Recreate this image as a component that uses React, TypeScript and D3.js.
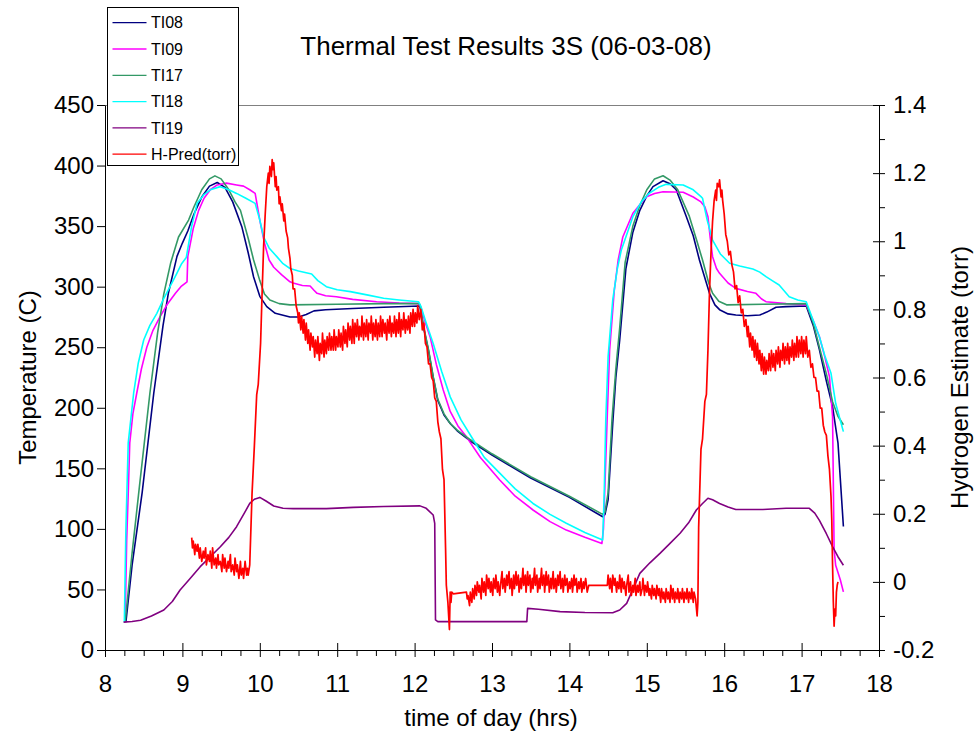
import React, { useEffect, useRef } from 'react';
import * as d3 from 'd3';

const W = 979;
const H = 733;
const PL = 105, PR = 879, PT = 105, PB = 650;

const xTicks = [8, 9, 10, 11, 12, 13, 14, 15, 16, 17, 18];
const xMinor = [8.25, 8.5, 8.75, 9.25, 9.5, 9.75, 10.25, 10.5, 10.75, 11.25, 11.5, 11.75, 12.25, 12.5, 12.75, 13.25, 13.5, 13.75, 14.25, 14.5, 14.75, 15.25, 15.5, 15.75, 16.25, 16.5, 16.75, 17.25, 17.5, 17.75];
const yLeftTicks = [0, 50, 100, 150, 200, 250, 300, 350, 400, 450];
const yRightTicks = [-0.2, 0, 0.2, 0.4, 0.6, 0.8, 1.0, 1.2, 1.4];
const yRightLabels = ['-0.2', '0', '0.2', '0.4', '0.6', '0.8', '1', '1.2', '1.4'];
const yRightMinor = [-0.1, 0.1, 0.3, 0.5, 0.7, 0.9, 1.1, 1.3];

const seriesNames = ['TI08', 'TI09', 'TI17', 'TI18', 'TI19', 'H-Pred(torr)'];
const seriesColors = ['#000080', '#FF00FF', '#339966', '#00FFFF', '#800080', '#FF0000'];

const TI08: [number, number][] = [
  [8.27, 23], [8.35, 70], [8.48, 130], [8.63, 212], [8.75, 268], [8.82, 295], [8.93, 325], [9.0, 336], [9.07, 346],
  [9.15, 360], [9.25, 374], [9.35, 383], [9.45, 386], [9.55, 382], [9.65, 370], [9.77, 349], [9.85, 328], [9.92, 308],
  [10.0, 292], [10.09, 283.5], [10.2, 278], [10.39, 275], [10.5, 275], [10.6, 277], [10.7, 280], [10.85, 281],
  [11.2, 282], [11.6, 283], [12.06, 284],
  [12.07, 283], [12.12, 265], [12.18, 247], [12.24, 225], [12.3, 206], [12.38, 194], [12.46, 187], [12.55, 181],
  [12.71, 173], [13.0, 161], [13.5, 142], [14.0, 126], [14.43, 110],
  [14.46, 112], [14.5, 124], [14.56, 187], [14.6, 225], [14.65, 256], [14.73, 315], [14.82, 345], [14.91, 363],
  [15.0, 375], [15.08, 382.6], [15.21, 387.5], [15.3, 385], [15.38, 380], [15.51, 358], [15.6, 342], [15.68, 322],
  [15.77, 303], [15.81, 294.5], [15.88, 285], [15.94, 281], [16.05, 277.5], [16.15, 276.6], [16.3, 276],
  [16.46, 276.6], [16.55, 279], [16.67, 283], [16.8, 283.5], [17.06, 284], [17.15, 268], [17.23, 248],
  [17.32, 222], [17.4, 201], [17.47, 171], [17.54, 102],
];

const TI09: [number, number][] = [
  [8.26, 23], [8.28, 90], [8.3, 129], [8.32, 171], [8.36, 195], [8.41, 212], [8.47, 232], [8.54, 250], [8.62, 264],
  [8.71, 275], [8.8, 285], [8.91, 294.5], [8.98, 300], [9.06, 304], [9.07, 325], [9.14, 348], [9.21, 363],
  [9.28, 373], [9.36, 380], [9.45, 384], [9.57, 385.5], [9.7, 384], [9.79, 383], [9.87, 380], [9.94, 377],
  [10.0, 355], [10.06, 336], [10.12, 322], [10.18, 316], [10.28, 310], [10.39, 304], [10.43, 303], [10.55, 301],
  [10.65, 300.5], [10.7, 297], [10.74, 294.5], [10.85, 292.5], [10.99, 291.7], [11.2, 289.5], [11.51, 287.6],
  [11.8, 286.5], [12.05, 286],
  [12.08, 283], [12.14, 270], [12.2, 258.7], [12.28, 236], [12.37, 214.7], [12.46, 197], [12.56, 185], [12.67, 176],
  [12.85, 159], [13.1, 140.4], [13.3, 127], [13.53, 115.6], [13.75, 106], [13.96, 99], [14.2, 93], [14.42, 88],
  [14.44, 100], [14.46, 138], [14.49, 195], [14.52, 247.7], [14.58, 297], [14.63, 322], [14.69, 341],
  [14.82, 360.6], [14.99, 374], [15.1, 377], [15.21, 378.4], [15.47, 378], [15.6, 374], [15.7, 370], [15.75, 366],
  [15.79, 357.8], [15.82, 340], [15.85, 324.8], [15.9, 315], [15.94, 311], [16.05, 303], [16.15, 298.6],
  [16.3, 296], [16.41, 294.5], [16.48, 290], [16.54, 287.6], [16.8, 286], [17.06, 285], [17.15, 272],
  [17.23, 258.7], [17.3, 242], [17.36, 225.7], [17.4, 192.6], [17.42, 82.6], [17.44, 70], [17.5, 58], [17.54, 48],
];

const TI17: [number, number][] = [
  [8.26, 23], [8.35, 80], [8.45, 138], [8.58, 212], [8.68, 262], [8.76, 294], [8.85, 320], [8.95, 341], [9.08, 355],
  [9.15, 366], [9.25, 380], [9.35, 389], [9.42, 391.5], [9.5, 389], [9.6, 380], [9.68, 370], [9.75, 363],
  [9.85, 340], [9.92, 322], [10.0, 305], [10.06, 294], [10.13, 289], [10.25, 286], [10.39, 285], [11.0, 285.5],
  [11.6, 286], [12.06, 286],
  [12.07, 285], [12.12, 266], [12.18, 248], [12.24, 226], [12.3, 207], [12.38, 195], [12.46, 187], [12.55, 181.5],
  [12.71, 174], [13.0, 162], [13.5, 143], [14.0, 127], [14.43, 112],
  [14.46, 114], [14.5, 130], [14.55, 190], [14.6, 232], [14.65, 266], [14.72, 320], [14.82, 350], [14.91, 367],
  [15.0, 380], [15.1, 389], [15.21, 391.6], [15.3, 388], [15.4, 380], [15.55, 358], [15.65, 337], [15.72, 322],
  [15.8, 303], [15.85, 294.5], [15.93, 288], [16.03, 285], [16.5, 285.5], [17.06, 286], [17.15, 270],
  [17.23, 250], [17.32, 228], [17.4, 205], [17.47, 193], [17.54, 186],
];

const TI18: [number, number][] = [
  [8.25, 23], [8.27, 100], [8.3, 171], [8.37, 212], [8.43, 237], [8.5, 256], [8.58, 268], [8.67, 278], [8.75, 289],
  [8.84, 300], [8.92, 310], [8.99, 319], [9.05, 324], [9.12, 350], [9.19, 368.8], [9.28, 376], [9.36, 380],
  [9.49, 382.6], [9.6, 380], [9.7, 377], [9.82, 373], [9.94, 368.8], [10.0, 355], [10.05, 341], [10.12, 332],
  [10.22, 324.8], [10.3, 319], [10.39, 315], [10.5, 313], [10.67, 310.5], [10.75, 305], [10.86, 300], [11.0, 297.5],
  [11.17, 295.9], [11.4, 293], [11.6, 290.4], [11.8, 289], [12.05, 287.6],
  [12.08, 284], [12.15, 270], [12.24, 253], [12.35, 230], [12.46, 209], [12.6, 190], [12.76, 173.4], [12.9, 159],
  [13.1, 146], [13.3, 133], [13.53, 121], [13.75, 112], [13.96, 104.6], [14.2, 97], [14.43, 90.8],
  [14.45, 130], [14.47, 190], [14.5, 242], [14.56, 289], [14.62, 315], [14.67, 330], [14.82, 357.8], [14.93, 370],
  [15.03, 377], [15.15, 382], [15.25, 384.5], [15.47, 384], [15.6, 380], [15.7, 374.3], [15.72, 373], [15.78, 355],
  [15.85, 338.5], [15.95, 327], [16.07, 319.3], [16.2, 317], [16.37, 314.6], [16.46, 312], [16.54, 308.3],
  [16.62, 305], [16.71, 301.4], [16.84, 291.7], [16.95, 289], [17.06, 287.6], [17.15, 272], [17.23, 258.7],
  [17.3, 243], [17.38, 228.5], [17.44, 203.7], [17.49, 192], [17.54, 180.3],
];

const TI19: [number, number][] = [
  [8.24, 23], [8.35, 23.5], [8.46, 24.5], [8.6, 28], [8.76, 33], [8.87, 40], [8.97, 49.5], [9.1, 59], [9.23, 68.8],
  [9.36, 77], [9.49, 85.3], [9.6, 93], [9.7, 101.8], [9.8, 113], [9.87, 121], [9.93, 124.5], [10.0, 126],
  [10.08, 123], [10.18, 118.9], [10.3, 117], [10.43, 116.7], [10.86, 116.7], [11.21, 117.8], [11.6, 118.5],
  [12.07, 119], [12.15, 117], [12.24, 111.5], [12.26, 104.6], [12.27, 24.8], [12.3, 23.4], [13.45, 23.4],
  [13.46, 34.4], [13.6, 33.6], [13.88, 31.7], [14.2, 31], [14.56, 30.8], [14.65, 33], [14.74, 38.5], [14.82, 50],
  [14.91, 63.3], [15.04, 72], [15.17, 79.8], [15.3, 88], [15.43, 96.4], [15.54, 105], [15.64, 115.6], [15.72, 121],
  [15.79, 125.3], [15.85, 124], [15.94, 121], [16.05, 118], [16.15, 116], [16.5, 116], [16.8, 117], [17.1, 117],
  [17.17, 113], [17.23, 107], [17.32, 96], [17.4, 85.3], [17.47, 77], [17.54, 70],
];

const HPRED: [number, number][] = [
  [9.12, 0.13], [9.13, 0.10], [9.14, 0.12], [9.16, 0.08], [9.17, 0.11], [9.19, 0.09], [9.2, 0.11], [9.22, 0.07],
  [9.23, 0.10], [9.25, 0.06], [9.27, 0.09], [9.28, 0.07], [9.3, 0.10], [9.31, 0.05], [9.33, 0.08], [9.35, 0.06],
  [9.36, 0.09], [9.38, 0.04], [9.39, 0.10], [9.41, 0.05], [9.43, 0.07], [9.44, 0.04], [9.46, 0.08], [9.47, 0.05],
  [9.49, 0.06], [9.51, 0.03], [9.52, 0.08], [9.54, 0.04], [9.55, 0.07], [9.57, 0.03], [9.59, 0.06], [9.6, 0.04],
  [9.62, 0.08], [9.63, 0.03], [9.65, 0.05], [9.67, 0.02], [9.68, 0.07], [9.7, 0.03], [9.71, 0.05], [9.73, 0.01],
  [9.75, 0.06], [9.76, 0.02], [9.78, 0.04], [9.79, 0.01], [9.81, 0.06], [9.83, 0.02], [9.84, 0.04], [9.85, 0.02],
  [9.87, 0.05], [9.9, 0.26], [9.93, 0.40], [9.96, 0.55], [9.98, 0.58], [10.01, 0.70], [10.03, 0.85], [10.05, 0.99],
  [10.07, 1.08], [10.09, 1.16], [10.11, 1.20], [10.12, 1.17], [10.13, 1.22], [10.15, 1.19], [10.16, 1.24],
  [10.17, 1.21], [10.18, 1.23], [10.2, 1.16], [10.21, 1.19], [10.22, 1.15], [10.24, 1.16], [10.25, 1.11],
  [10.26, 1.13], [10.28, 1.09], [10.29, 1.11], [10.31, 1.06], [10.32, 1.08], [10.34, 1.03], [10.36, 1.01],
  [10.37, 0.98], [10.39, 0.95], [10.4, 0.92], [10.42, 0.90], [10.43, 0.86], [10.45, 0.86], [10.47, 0.81],
  [10.49, 0.79], [10.5, 0.76], [10.51, 0.79], [10.53, 0.74], [10.54, 0.78], [10.56, 0.73], [10.57, 0.77],
  [10.59, 0.71], [10.6, 0.76], [10.62, 0.70], [10.63, 0.74], [10.65, 0.68], [10.66, 0.73], [10.68, 0.69],
  [10.69, 0.72], [10.71, 0.66], [10.72, 0.71], [10.74, 0.67], [10.75, 0.72], [10.77, 0.65], [10.78, 0.70],
  [10.8, 0.67], [10.81, 0.73], [10.83, 0.66], [10.84, 0.71], [10.86, 0.67], [10.87, 0.72], [10.89, 0.68],
  [10.9, 0.73], [10.92, 0.68], [10.93, 0.72], [10.95, 0.68], [10.96, 0.74], [10.98, 0.68], [10.99, 0.72],
  [11.01, 0.69], [11.02, 0.74], [11.04, 0.69], [11.05, 0.73], [11.07, 0.68], [11.08, 0.75], [11.1, 0.70],
  [11.11, 0.74], [11.13, 0.69], [11.14, 0.76], [11.16, 0.71], [11.17, 0.75], [11.19, 0.70], [11.2, 0.77],
  [11.22, 0.70], [11.23, 0.76], [11.25, 0.72], [11.26, 0.77], [11.28, 0.71], [11.29, 0.75], [11.31, 0.72],
  [11.32, 0.78], [11.34, 0.71], [11.35, 0.76], [11.37, 0.72], [11.38, 0.77], [11.4, 0.71], [11.41, 0.76],
  [11.43, 0.73], [11.44, 0.78], [11.46, 0.71], [11.47, 0.76], [11.49, 0.72], [11.5, 0.77], [11.52, 0.71],
  [11.53, 0.76], [11.55, 0.72], [11.56, 0.78], [11.58, 0.72], [11.59, 0.77], [11.61, 0.73], [11.62, 0.76],
  [11.64, 0.71], [11.65, 0.77], [11.67, 0.73], [11.68, 0.78], [11.7, 0.72], [11.71, 0.76], [11.73, 0.73],
  [11.74, 0.78], [11.76, 0.72], [11.77, 0.77], [11.79, 0.73], [11.8, 0.79], [11.82, 0.72], [11.83, 0.77],
  [11.85, 0.74], [11.86, 0.79], [11.88, 0.73], [11.89, 0.77], [11.91, 0.74], [11.92, 0.78], [11.94, 0.73],
  [11.95, 0.79], [11.97, 0.75], [11.98, 0.80], [12.0, 0.75], [12.01, 0.79], [12.03, 0.76], [12.04, 0.81],
  [12.06, 0.77], [12.08, 0.80], [12.1, 0.74], [12.12, 0.76], [12.14, 0.70],
  [12.16, 0.69], [12.18, 0.64], [12.2, 0.64], [12.22, 0.60], [12.24, 0.59], [12.26, 0.54], [12.28, 0.53],
  [12.3, 0.47], [12.32, 0.44], [12.34, 0.42], [12.36, 0.33], [12.38, 0.30], [12.4, 0.10], [12.41, -0.01],
  [12.43, -0.06], [12.45, -0.14], [12.46, -0.03], [12.47, -0.06], [12.48, -0.03], [12.5, -0.035], [12.67, -0.03],
  [12.68, -0.05], [12.69, -0.04], [12.71, -0.07], [12.72, -0.03], [12.74, -0.06], [12.75, -0.02], [12.77, -0.05],
  [12.78, -0.01], [12.8, -0.04], [12.81, 0.00], [12.83, -0.03], [12.84, -0.01], [12.86, -0.05], [12.87, 0.01],
  [12.89, -0.03], [12.9, 0.00], [12.92, -0.04], [12.93, 0.02], [12.95, -0.02], [12.96, 0.01], [12.98, -0.03],
  [12.99, 0.00], [13.01, -0.04], [13.02, 0.01], [13.04, -0.02], [13.05, 0.02], [13.07, -0.03], [13.08, 0.00],
  [13.1, -0.04], [13.11, -0.01], [13.13, 0.03], [13.14, -0.02], [13.16, 0.01], [13.17, -0.03], [13.19, 0.02],
  [13.2, -0.01], [13.22, 0.03], [13.23, -0.02], [13.25, 0.01], [13.26, -0.04], [13.28, 0.02], [13.29, -0.02],
  [13.31, 0.03], [13.32, -0.01], [13.34, 0.02], [13.35, -0.03], [13.37, 0.01], [13.38, -0.02], [13.4, 0.04],
  [13.41, -0.01], [13.43, 0.02], [13.44, -0.03], [13.46, 0.03], [13.47, -0.01], [13.49, 0.02], [13.5, -0.03],
  [13.52, 0.01], [13.53, -0.02], [13.55, 0.04], [13.56, -0.01], [13.58, 0.02], [13.59, -0.03], [13.61, 0.01],
  [13.62, -0.02], [13.64, 0.04], [13.65, -0.01], [13.67, 0.02], [13.68, -0.03], [13.7, 0.03], [13.71, -0.01],
  [13.73, 0.02], [13.74, -0.03], [13.76, 0.01], [13.77, -0.02], [13.79, 0.03], [13.8, -0.02], [13.82, 0.01],
  [13.83, -0.03], [13.85, 0.02], [13.86, -0.01], [13.88, 0.03], [13.89, -0.02], [13.91, 0.01], [13.92, -0.03],
  [13.94, 0.02], [13.95, -0.01], [13.97, 0.01], [13.98, -0.03], [14.0, 0.00], [14.01, -0.02], [14.03, 0.01],
  [14.04, -0.03], [14.06, 0.02], [14.07, -0.01], [14.09, 0.01], [14.1, -0.03], [14.12, 0.00], [14.13, -0.02],
  [14.15, 0.01], [14.16, -0.03], [14.18, 0.00], [14.19, -0.02], [14.21, 0.01], [14.23, -0.03], [14.25, -0.01],
  [14.28, -0.01], [14.49, -0.01], [14.5, 0.02], [14.52, -0.02], [14.53, 0.01], [14.55, -0.03], [14.56, 0.02],
  [14.58, -0.01], [14.59, 0.01], [14.61, -0.03], [14.62, 0.00], [14.64, -0.02], [14.65, 0.02], [14.67, -0.03],
  [14.68, 0.01], [14.7, -0.02], [14.71, 0.00], [14.73, -0.04], [14.74, -0.01], [14.76, 0.02], [14.77, -0.03],
  [14.79, 0.00], [14.8, -0.04], [14.82, -0.01], [14.83, -0.03], [14.85, 0.01], [14.86, -0.04], [14.88, -0.01],
  [14.89, -0.03], [14.91, 0.00], [14.92, -0.04], [14.94, -0.02], [14.95, 0.01], [14.97, -0.04], [14.98, -0.01],
  [15.0, -0.03], [15.01, 0.00], [15.03, -0.04], [15.04, -0.02], [15.06, -0.05], [15.07, -0.01], [15.09, -0.04],
  [15.1, -0.02], [15.12, -0.05], [15.13, -0.01], [15.15, -0.04], [15.16, -0.02], [15.18, -0.06], [15.19, -0.02],
  [15.21, -0.05], [15.22, -0.03], [15.24, -0.06], [15.25, -0.02], [15.27, -0.05], [15.28, -0.03], [15.3, -0.06],
  [15.31, -0.01], [15.33, -0.05], [15.34, -0.02], [15.36, -0.06], [15.37, -0.03], [15.39, -0.05], [15.4, -0.02],
  [15.42, -0.06], [15.43, -0.03], [15.45, -0.05], [15.46, -0.02], [15.48, -0.06], [15.49, -0.03], [15.51, -0.05],
  [15.52, -0.02], [15.54, -0.06], [15.55, -0.03], [15.57, -0.05], [15.58, -0.02], [15.6, -0.06], [15.61, -0.03],
  [15.63, -0.05], [15.65, -0.10], [15.66, -0.06],
  [15.67, 0.16], [15.7, 0.39], [15.72, 0.42], [15.75, 0.53], [15.77, 0.55], [15.79, 0.68], [15.81, 0.85],
  [15.83, 0.97], [15.85, 1.06], [15.87, 1.12], [15.89, 1.15], [15.9, 1.12], [15.91, 1.17], [15.93, 1.16],
  [15.94, 1.18], [15.96, 1.13], [15.97, 1.15], [15.98, 1.12], [16.0, 1.08], [16.02, 1.02], [16.04, 1.00],
  [16.06, 0.96], [16.08, 0.97], [16.1, 0.93], [16.12, 0.91], [16.14, 0.86], [16.16, 0.87], [16.18, 0.82],
  [16.2, 0.84], [16.22, 0.79], [16.24, 0.80], [16.26, 0.75], [16.28, 0.77], [16.3, 0.72], [16.31, 0.75],
  [16.33, 0.69], [16.34, 0.73], [16.36, 0.68], [16.37, 0.72], [16.39, 0.66], [16.4, 0.71], [16.42, 0.65],
  [16.43, 0.70], [16.45, 0.64], [16.46, 0.68], [16.48, 0.62], [16.49, 0.67], [16.51, 0.61], [16.52, 0.66],
  [16.54, 0.61], [16.55, 0.65], [16.57, 0.62], [16.58, 0.67], [16.6, 0.62], [16.61, 0.68], [16.63, 0.63],
  [16.64, 0.67], [16.66, 0.62], [16.67, 0.68], [16.69, 0.64], [16.7, 0.69], [16.72, 0.63], [16.73, 0.68],
  [16.75, 0.65], [16.76, 0.70], [16.78, 0.64], [16.79, 0.69], [16.81, 0.65], [16.82, 0.70], [16.84, 0.64],
  [16.85, 0.69], [16.87, 0.66], [16.88, 0.71], [16.9, 0.65], [16.91, 0.70], [16.93, 0.66], [16.94, 0.72],
  [16.96, 0.66], [16.97, 0.71], [16.99, 0.67], [17.0, 0.72], [17.02, 0.66], [17.03, 0.71], [17.05, 0.67],
  [17.06, 0.72], [17.08, 0.66], [17.1, 0.68], [17.12, 0.63], [17.14, 0.64], [17.16, 0.60],
  [17.18, 0.60], [17.2, 0.56], [17.22, 0.56], [17.24, 0.51], [17.26, 0.51], [17.28, 0.46], [17.3, 0.44],
  [17.32, 0.43], [17.34, 0.37], [17.36, 0.33], [17.38, 0.25], [17.39, 0.18], [17.4, 0.05], [17.41, -0.06],
  [17.42, -0.13], [17.43, -0.08], [17.44, -0.10], [17.45, -0.03], [17.46, -0.01], [17.47, 0.00],
];

const tempSeries = [TI08, TI09, TI17, TI18, TI19];

const FONT = '"Liberation Sans", Arial, Helvetica, sans-serif';

export default function App() {
  const ref = useRef<SVGSVGElement | null>(null);

  useEffect(() => {
    const svg = d3.select(ref.current);
    svg.selectAll('*').remove();

    const x = d3.scaleLinear().domain([8, 18]).range([PL, PR]);
    const yL = d3.scaleLinear().domain([0, 450]).range([PB, PT]);
    const yR = d3.scaleLinear().domain([-0.2, 1.4]).range([PB, PT]);

    svg.append('rect').attr('x', 0).attr('y', 0).attr('width', W).attr('height', H).attr('fill', '#fff');

    // top border
    svg.append('line').attr('x1', PL).attr('x2', PR).attr('y1', PT + 0.5).attr('y2', PT + 0.5)
      .attr('stroke', '#808080').attr('stroke-width', 1);

    const clip = svg.append('defs').append('clipPath').attr('id', 'plotclip');
    clip.append('rect').attr('x', PL).attr('y', PT - 2).attr('width', PR - PL).attr('height', PB - PT + 4);

    const lineL = d3.line<[number, number]>().x(d => x(d[0])).y(d => yL(d[1]));
    const lineR = d3.line<[number, number]>().x(d => x(d[0])).y(d => yR(d[1]));

    const g = svg.append('g').attr('clip-path', 'url(#plotclip)');
    tempSeries.forEach((s, i) => {
      g.append('path').attr('d', lineL(s)).attr('fill', 'none')
        .attr('stroke', seriesColors[i]).attr('stroke-width', 1.6).attr('stroke-linejoin', 'round');
    });
    g.append('path').attr('d', lineR(HPRED)).attr('fill', 'none')
      .attr('stroke', seriesColors[5]).attr('stroke-width', 1.7).attr('stroke-linejoin', 'round');

    // Left axis
    svg.append('g').attr('transform', `translate(${PL},0)`)
      .call(d3.axisLeft(yL).tickValues(yLeftTicks).tickSize(8).tickSizeOuter(0).tickPadding(3).tickFormat(d3.format('d')));
    // Bottom axis minor
    svg.append('g').attr('transform', `translate(0,${PB})`)
      .call(d3.axisBottom(x).tickValues(xMinor).tickSize(6).tickSizeOuter(0).tickFormat(() => ''));
    // Bottom axis major
    const gb = svg.append('g').attr('transform', `translate(0,${PB})`)
      .call(d3.axisBottom(x).tickValues(xTicks).tickSize(7).tickSizeOuter(0).tickPadding(18).tickFormat(d3.format('d')));
    gb.selectAll('.tick line').attr('y1', -7);
    // Right axis minor
    svg.append('g').attr('transform', `translate(${PR},0)`)
      .call(d3.axisRight(yR).tickValues(yRightMinor).tickSize(6).tickSizeOuter(0).tickFormat(() => ''));
    // Right axis major
    const gr = svg.append('g').attr('transform', `translate(${PR},0)`)
      .call(d3.axisRight(yR).tickValues(yRightTicks).tickSize(6).tickSizeOuter(0).tickPadding(8)
        .tickFormat((d, i) => yRightLabels[i]));
    gr.selectAll('.tick line').attr('x1', -6);

    svg.selectAll('.domain').attr('stroke', '#000');
    svg.selectAll('.tick line').attr('stroke', '#000');
    svg.selectAll('.tick text').attr('font-family', FONT).attr('font-size', 24).attr('fill', '#000');

    // Title and labels
    svg.append('text').attr('x', 506).attr('y', 55).attr('text-anchor', 'middle')
      .attr('font-family', FONT).attr('font-size', 26).text('Thermal Test Results 3S (06-03-08)');
    svg.append('text').attr('x', 491).attr('y', 726).attr('text-anchor', 'middle')
      .attr('font-family', FONT).attr('font-size', 24).text('time of day (hrs)');
    svg.append('text').attr('transform', `translate(36,${(PT + PB) / 2}) rotate(-90)`).attr('text-anchor', 'middle')
      .attr('font-family', FONT).attr('font-size', 24).text('Temperature (C)');
    svg.append('text').attr('transform', `translate(968,${(PT + PB) / 2}) rotate(-90)`).attr('text-anchor', 'middle')
      .attr('font-family', FONT).attr('font-size', 24).text('Hydrogen Estimate (torr)');

    // Legend
    const lg = svg.append('g');
    lg.append('rect').attr('x', 107.5).attr('y', 7.5).attr('width', 131).attr('height', 158)
      .attr('fill', '#fff').attr('stroke', '#000').attr('stroke-width', 1);
    seriesNames.forEach((n, i) => {
      const yy = 22.7 + i * 26.3;
      lg.append('line').attr('x1', 112.5).attr('x2', 146.5).attr('y1', yy).attr('y2', yy)
        .attr('stroke', seriesColors[i]).attr('stroke-width', 1.3);
      lg.append('text').attr('x', 151).attr('y', yy).attr('dy', '0.36em')
        .attr('font-family', FONT).attr('font-size', 16).text(n);
    });
  }, []);

  return (
    <svg ref={ref} width={W} height={H}
      style={{ position: 'absolute', left: 0, top: 0, display: 'block', background: '#fff' }} />
  );
}
